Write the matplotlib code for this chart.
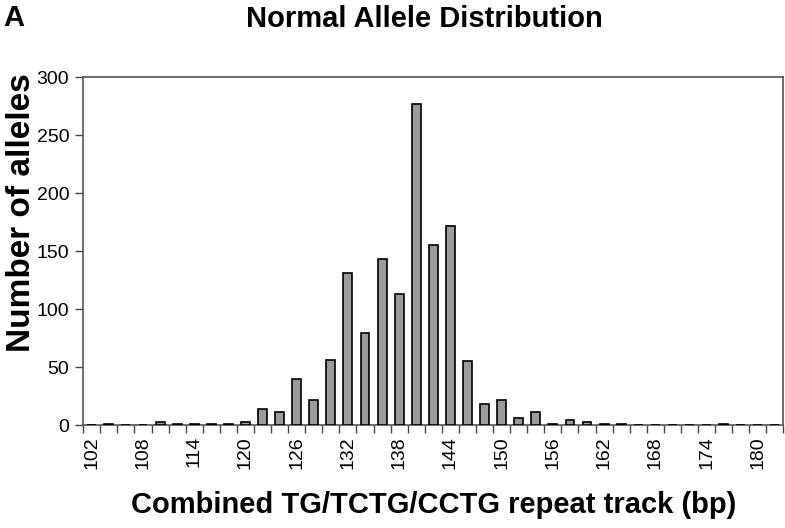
import numpy as np
import matplotlib.pyplot as plt
from matplotlib.ticker import FixedLocator

plt.rcParams['font.family'] = ['Liberation Sans', 'DejaVu Sans']

# repeat length (bp) and allele counts
lengths = list(range(102, 184, 2))
counts = [0, 1, 0, 0, 3, 1, 1, 1, 1, 3,
          14, 11, 40, 22, 56, 131, 79, 143, 113, 277,
          155, 172, 55, 18, 22, 6, 11, 1, 4, 3,
          1, 1, 0, 0, 0, 0, 0, 1, 0, 0, 0]
label_every = 3

x = np.arange(len(lengths))

fig = plt.figure(figsize=(7.85, 5.28), dpi=100)
ax = fig.add_axes([0.106, 0.195, 0.892, 0.659])

ax.bar(x, counts, width=0.52, color='#9b9b9b', edgecolor='black', linewidth=1.2, zorder=3)

ax.set_xlim(-0.5, len(lengths) - 0.5)
ax.set_ylim(0, 300)
ax.set_yticks(np.arange(0, 301, 50))

# labels at category centres, tick marks at category boundaries
ax.set_xticks(x[::label_every])
ax.set_xticklabels([str(v) for v in lengths[::label_every]], rotation=90)
ax.xaxis.set_minor_locator(FixedLocator(np.arange(-0.5, len(lengths), 1.0)))
ax.tick_params(axis='x', which='major', length=0, pad=8, labelsize=14)
ax.tick_params(axis='x', which='minor', length=6, width=1, color='#444444')
ax.tick_params(axis='y', length=6, width=1, color='#444444', labelsize=14, pad=4)

for s in ax.spines.values():
    s.set_color('#555555')
    s.set_linewidth(1.2)

# axis titles placed in figure coords to match the original layout
fig.text(0.027, 0.597, 'Number of alleles', rotation=90, ha='center', va='center',
         fontsize=24, fontweight='bold')
fig.text(0.552, 0.044, 'Combined TG/TCTG/CCTG repeat track (bp)', ha='center',
         va='center', fontsize=21, fontweight='bold')

fig.text(0.540, 0.964, 'Normal Allele Distribution', ha='center', va='center',
         fontsize=21, fontweight='bold')
fig.text(0.004, 0.966, 'A', ha='left', va='center', fontsize=21, fontweight='bold')

fig.savefig('out.png', dpi=100)
